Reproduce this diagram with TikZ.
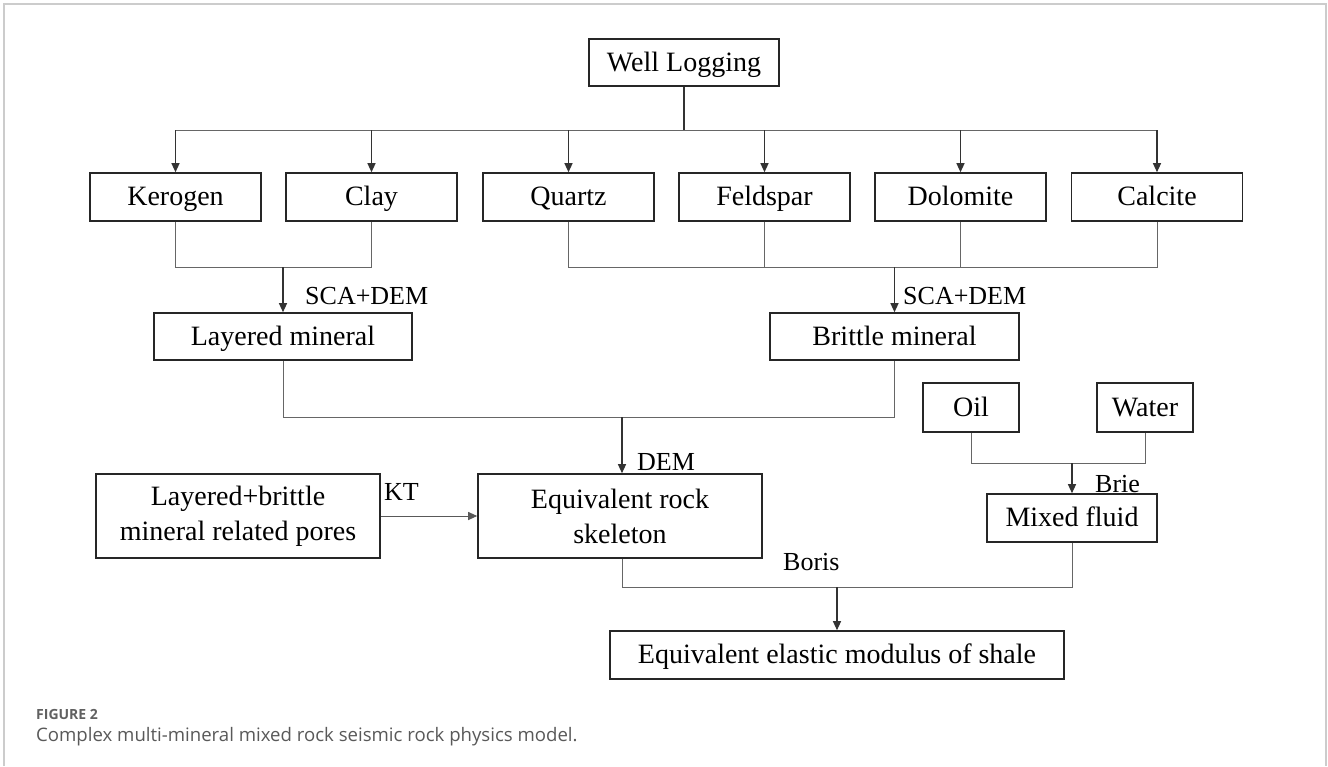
\documentclass[tikz,border=0pt]{standalone}
\usepackage{fontspec}
\setmainfont{Liberation Serif}
\newfontfamily\capfont{Open Sans}
\usetikzlibrary{arrows.meta}
\begin{document}
\begin{tikzpicture}[x=1pt,y=-1pt,
  boxbase/.style={draw=black!85,line width=1.6pt,minimum height=48pt,inner sep=0pt,font=\fontsize{28}{35}\selectfont,align=center},
  box/.style={boxbase,text height=21pt,text depth=4pt},
  boxtwo/.style={boxbase,minimum height=84pt,minimum width=284pt},
  conn/.style={draw=black!60,line width=1pt},
  arr/.style={draw=black!80,line width=1.2pt,-{Triangle[length=9pt,width=8pt]}},
  thinarr/.style={draw=black!65,line width=1pt,-{Triangle[length=9pt,width=8pt]}},
  lbl/.style={font=\fontsize{26}{30}\selectfont,inner sep=0pt,anchor=base west}]
\useasboundingbox (0,0) rectangle (1328,766);
\fill[white] (0,0) rectangle (1328,766);
\draw[black!20,line width=1.5pt] (4,766) -- (4,4) -- (1326,4) -- (1326,766);

% boxes
\node[box,minimum width=190pt,minimum height=47pt] (well) at (684,62.5) {Well Logging};
\node[box,minimum width=171pt] (ker) at (175.5,197) {Kerogen};
\node[box,minimum width=171pt] (cla) at (371.5,197) {Clay};
\node[box,minimum width=171pt] (qua) at (568.5,197) {Quartz};
\node[box,minimum width=171pt] (fel) at (764.5,197) {Feldspar};
\node[box,minimum width=171pt] (dol) at (960.5,197) {Dolomite};
\node[box,minimum width=171pt] (cal) at (1157,197) {Calcite};
\node[box,minimum width=258pt,minimum height=47pt] (lay) at (283,336.5) {Layered mineral};
\node[box,minimum width=249pt,minimum height=47pt] (bri) at (894.5,336.5) {Brittle mineral};
\node[box,minimum width=96pt,minimum height=49pt] (oil) at (971,407.5) {Oil};
\node[box,minimum width=96pt,minimum height=49pt] (wat) at (1145,407.5) {Water};
\node[box,minimum width=170pt] (mix) at (1072,518) {Mixed fluid};
\node[boxtwo] (lbp) at (238,516) {Layered+brittle\\mineral related pores};
\node[boxtwo] (eqv) at (620,516) {Equivalent rock\\skeleton};
\node[box,minimum width=454pt] (fin) at (837,655) {Equivalent elastic modulus of shale};

% junction points
\coordinate (bus) at (684,130);
\coordinate (j1) at (283,267);
\coordinate (j2) at (894.5,267);
\coordinate (j3) at (622,417);
\coordinate (j4) at (1072,463);
\coordinate (e5) at (622,587);
\coordinate (j5) at (837,587);

% well logging distribution
\draw[conn,draw=black!80,line width=1.2pt] (well.south) -- (bus);
\draw[conn] (ker.north |- bus) -- (cal.north |- bus);
\foreach \n in {ker,cla,qua,fel,dol,cal} \draw[arr] (\n.north |- bus) -- (\n.north);

% layered mineral
\draw[conn] (ker.south) -- (ker.south |- j1) -- (cla.south |- j1) -- (cla.south);
\draw[arr] (j1) -- (lay.north);

% brittle mineral
\draw[conn] (qua.south) -- (qua.south |- j2) -- (cal.south |- j2) -- (cal.south);
\draw[conn] (fel.south) -- (fel.south |- j2);
\draw[conn] (dol.south) -- (dol.south |- j2);
\draw[arr] (j2) -- (bri.north);

% equivalent rock skeleton
\draw[conn] (lay.south) -- (lay.south |- j3) -- (bri.south |- j3) -- (bri.south);
\draw[arr] (j3) -- (j3 |- eqv.north);
\draw[thinarr] (lbp.east) -- (eqv.west);

% fluids
\draw[conn] (oil.south) -- (oil.south |- j4) -- (wat.south |- j4) -- (wat.south);
\draw[arr] (j4) -- (mix.north);

% final
\draw[conn] (e5 |- eqv.south) -- (e5) -- (mix.south |- e5) -- (mix.south);
\draw[arr] (j5) -- (fin.north);

% labels
\node[lbl] (l1) at (305,304) {SCA+DEM};
\node[lbl] (l2) at (903,304) {SCA+DEM};
\node[lbl] (l3) at (637,470) {DEM};
\node[lbl] (l4) at (384,500) {KT};
\node[lbl] (l5) at (1095,492) {Brie};
\node[lbl] (l6) at (783,570) {Boris};

% caption
\node[anchor=base west,inner sep=0pt,font=\capfont\bfseries\fontsize{14}{18}\selectfont,text=black!62] (fig) at (36,719) {FIGURE 2};
\node[anchor=base west,inner sep=0pt,font=\capfont\fontsize{18.6}{22}\selectfont,text=black!65] (cap) at (36,741) {Complex multi-mineral mixed rock seismic rock physics model.};
\end{tikzpicture}
\end{document}
